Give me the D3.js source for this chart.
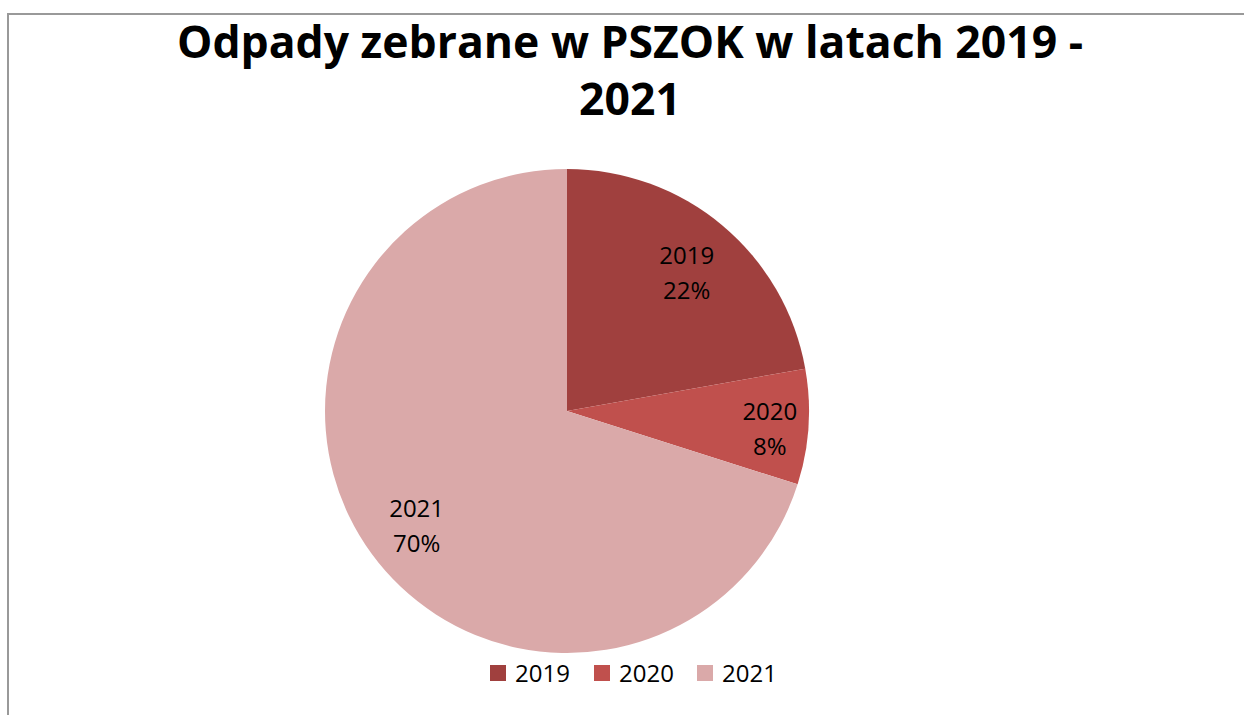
<!DOCTYPE html>
<html>
<head>
<meta charset="utf-8">
<style>
    body {
        margin: 0;
        background: #fff;
        font-family: 'Open Sans', sans-serif;
    }
</style>
</head>
<body>
<svg width="1244" height="715"></svg>
<script src="https://d3js.org/d3.v7.min.js"></script>
<script>
    // data
    var years = ["2019", "2020", "2021"];
    var shares = [22.2, 7.7, 70.1];
    var labels = ["22%", "8%", "70%"];
    var colors = ["#A0403E", "#C0504D", "#DAA9A9"];
    var titleLines = ["Odpady zebrane w PSZOK w latach 2019 -", "2021"];

    var svg = d3.select("svg");
    var cx = 567, cy = 411, radius = 242;

    // outer frame (right and bottom edges fall outside the picture)
    svg.append("rect")
        .attr("x", 8)
        .attr("y", 14)
        .attr("width", 1300)
        .attr("height", 800)
        .attr("fill", "none")
        .attr("stroke", "#999")
        .attr("stroke-width", 2);

    // title
    svg.append("g")
        .selectAll("text")
        .data(titleLines)
        .enter().append("text")
        .attr("x", 630)
        .attr("y", function (d, i) { return 58 + i * 57; })
        .attr("text-anchor", "middle")
        .attr("font-size", 44.5)
        .attr("font-weight", "bold")
        .attr("fill", "#000")
        .text(function (d) { return d; });

    var color = d3.scaleOrdinal().domain(years).range(colors);

    var pie = d3.pie().sort(null).value(function (d) { return d.value; });
    var rows = years.map(function (y, i) { return {year: y, value: shares[i], label: labels[i]}; });
    var arcs = pie(rows);

    var arc = d3.arc().innerRadius(0).outerRadius(radius);

    var g = svg.append("g").attr("transform", "translate(" + cx + "," + cy + ")");

    g.selectAll("path")
        .data(arcs)
        .enter().append("path")
        .attr("d", arc)
        .attr("fill", function (d) { return color(d.data.year); });

    // small slices get their label pushed further out
    function labelPos(d) {
        var share = (d.endAngle - d.startAngle) / (2 * Math.PI);
        var r = radius * (share < 0.1 ? 0.84 : 0.77);
        return d3.arc().innerRadius(r).outerRadius(r).centroid(d);
    }

    var lab = g.selectAll(".lab")
        .data(arcs)
        .enter().append("text")
        .attr("class", "lab")
        .attr("transform", function (d) {
            var c = labelPos(d);
            return "translate(" + c[0] + "," + (c[1] + 3) + ")";
        })
        .attr("text-anchor", "middle")
        .attr("font-size", 24)
        .attr("fill", "#000");

    lab.append("tspan")
        .attr("x", 0)
        .attr("dy", "-0.3em")
        .text(function (d) { return d.data.year; });
    lab.append("tspan")
        .attr("x", 0)
        .attr("dy", "1.45em")
        .text(function (d) { return d.data.label; });

    // legend
    var legendX = [490, 594, 697];
    var legend = svg.append("g")
        .selectAll("g")
        .data(years)
        .enter().append("g")
        .attr("transform", function (d, i) { return "translate(" + legendX[i] + ",665)"; });

    legend.append("rect")
        .attr("width", 16)
        .attr("height", 16)
        .attr("fill", color);

    legend.append("text")
        .attr("x", 25)
        .attr("y", 8)
        .attr("dy", "0.36em")
        .attr("font-size", 24)
        .attr("fill", "#000")
        .text(function (d) { return d; });
</script>
</body>
</html>
